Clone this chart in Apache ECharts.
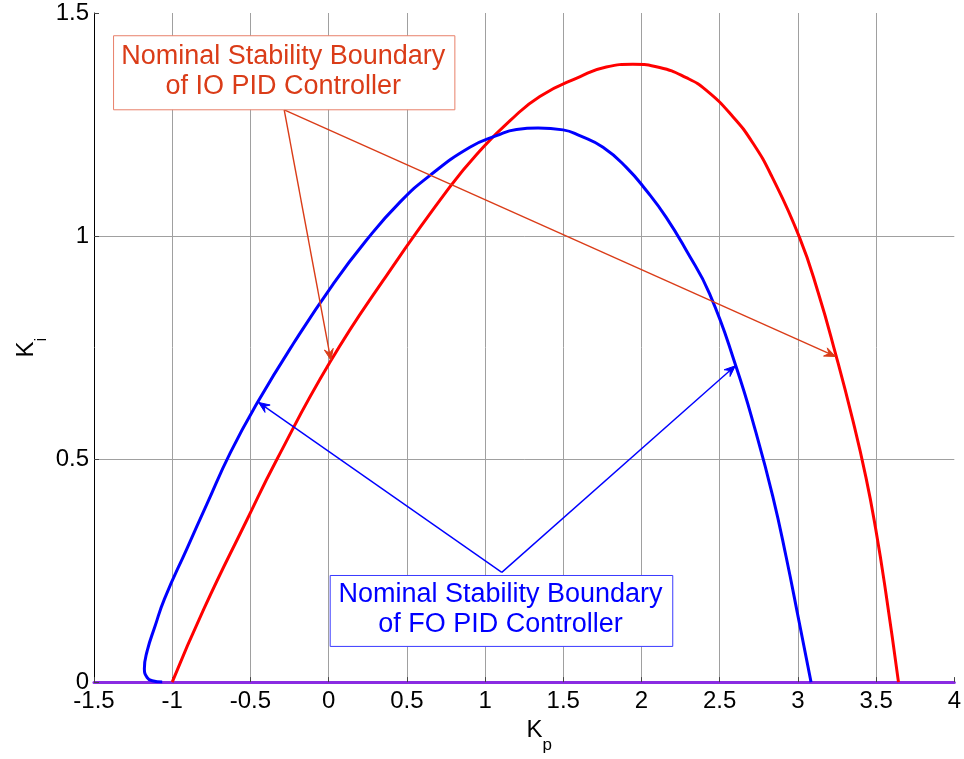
<!DOCTYPE html>
<html>
<head>
<meta charset="utf-8">
<title>Nominal stability boundaries</title>
<script src="https://cdn.jsdelivr.net/npm/echarts@6/dist/echarts.min.js"></script>
<style>
  html, body { margin: 0; padding: 0; background: #fff; }
  #chart { width: 964px; height: 759px; }
</style>
</head>
<body>
<div id="chart"></div>
<script>
// Integer-order PID: stability boundary in the (Kp, Ki) plane
const kpIO = [-1.0, -0.799, -0.522, -0.331, 0.01, 0.35, 0.775, 0.988, 1.158, 1.35,
  1.605, 1.775, 1.945, 2.116, 2.286, 2.413, 2.583, 2.711, 2.834, 3.009,
  3.13, 3.243, 3.349, 3.435, 3.498, 3.562, 3.643];
const kiIO = [0, 0.163, 0.364, 0.499, 0.718, 0.901, 1.110, 1.199, 1.258, 1.313,
  1.357, 1.379, 1.385, 1.378, 1.355, 1.327, 1.268, 1.209, 1.133, 0.998,
  0.873, 0.733, 0.590, 0.459, 0.342, 0.201, 0];

// Fractional-order PID: stability boundary in the (Kp, Ki) plane
const kpFO = [-1.064, -1.128, -1.16, -1.178, -1.16, -1.11, -1.05, -0.905, -0.777, -0.629,
  -0.458, -0.225, 0.03, 0.24, 0.456, 0.648, 0.903, 1.073, 1.201, 1.339,
  1.499, 1.605, 1.754, 1.903, 2.031, 2.158, 2.286, 2.435, 2.605, 2.733,
  2.839, 2.924, 3.009, 3.084];
const kiFO = [0, 0.003, 0.01, 0.03, 0.07, 0.125, 0.186, 0.300, 0.400, 0.514,
  0.625, 0.759, 0.893, 0.99, 1.076, 1.136, 1.199, 1.225, 1.239, 1.242,
  1.238, 1.225, 1.199, 1.154, 1.102, 1.042, 0.968, 0.871, 0.707, 0.558,
  0.417, 0.282, 0.133, 0];

// Axis ranges
const kpRange = [-1.5, 4];
const kiRange = [0, 1.5];
const tickStep = 0.5;

// Callout texts
const ioLabel = 'Nominal Stability Boundary\nof IO PID Controller';
const foLabel = 'Nominal Stability Boundary\nof FO PID Controller';

// Callout anchors in (Kp, Ki): box corners, arrow origin, arrow targets
const ioBox = [[-1.375, 1.449], [0.807, 1.283]];
const ioFrom = [-0.284, 1.283];
const ioTargets = [[0.014, 0.722], [3.24, 0.73]];
const foBox = [[0.01, 0.239], [2.20, 0.08]];
const foFrom = [1.107, 0.246];
const foTargets = [[-0.448, 0.627], [2.60, 0.709]];

const zip = (xs, ys) => xs.map((x, i) => [x, ys[i]]);

const FONT = '"Liberation Sans", Arial, Helvetica, sans-serif';
const IO_COLOR = '#da3c18';
const FO_COLOR = '#0000FF';

function arrowHead(tip, from, color) {
  const dx = tip[0] - from[0], dy = tip[1] - from[1];
  const len = Math.hypot(dx, dy);
  const ux = dx / len, uy = dy / len;
  const nx = -uy, ny = ux;
  const L = 11, W = 4.5, N = 7;
  return {
    type: 'polygon',
    shape: { points: [
      tip,
      [tip[0] - ux * L + nx * W, tip[1] - uy * L + ny * W],
      [tip[0] - ux * N, tip[1] - uy * N],
      [tip[0] - ux * L - nx * W, tip[1] - uy * L - ny * W]
    ] },
    style: { fill: color, stroke: color, lineWidth: 1 }
  };
}

function callout(api, box, from, targets, text, textColor, borderColor) {
  const p0 = api.coord(box[0]);
  const p1 = api.coord(box[1]);
  const start = api.coord(from);
  const children = [];
  targets.forEach(t => {
    const tip = api.coord(t);
    children.push({
      type: 'line',
      shape: { x1: start[0], y1: start[1], x2: tip[0], y2: tip[1] },
      style: { stroke: textColor, lineWidth: 1.4 }
    });
    children.push(arrowHead(tip, start, textColor));
  });
  children.push({
    type: 'rect',
    shape: { x: p0[0], y: p0[1], width: p1[0] - p0[0], height: p1[1] - p0[1] },
    style: { fill: '#fff', stroke: borderColor, lineWidth: 1 }
  });
  children.push({
    type: 'text',
    style: {
      text: text,
      x: (p0[0] + p1[0]) / 2 - 1,
      y: (p0[1] + p1[1]) / 2 - 1,
      align: 'center',
      verticalAlign: 'middle',
      fontFamily: FONT,
      fontSize: 27,
      lineHeight: 30,
      fill: textColor
    }
  });
  return children;
}

const chart = echarts.init(document.getElementById('chart'), null, { renderer: 'canvas' });

chart.setOption({
  animation: false,
  backgroundColor: '#fff',
  grid: { left: 94, right: 8, top: 13, bottom: 76 },
  xAxis: {
    type: 'value',
    min: kpRange[0],
    max: kpRange[1],
    interval: tickStep,
    name: '{k|K}{s|p}',
    nameLocation: 'middle',
    nameGap: 34,
    nameTextStyle: {
      padding: [0, 0, 0, 30],
      rich: {
        k: { fontFamily: FONT, fontSize: 24, color: '#000', lineHeight: 36, verticalAlign: 'top' },
        s: { fontFamily: FONT, fontSize: 17, color: '#000', lineHeight: 17, verticalAlign: 'bottom' }
      }
    },
    axisLine: { show: true, onZero: false, lineStyle: { color: '#8a2be2', width: 3 } },
    axisTick: { show: true, inside: true, length: 5, lineStyle: { color: '#444' } },
    axisLabel: { color: '#000', fontFamily: FONT, fontSize: 24, margin: 7 },
    splitLine: { show: true, showMinLine: false, showMaxLine: false, lineStyle: { color: '#a0a0a0', width: 1 } }
  },
  yAxis: {
    type: 'value',
    min: kiRange[0],
    max: kiRange[1],
    interval: tickStep,
    name: '{k|K}{s|i}',
    nameLocation: 'middle',
    nameGap: 44,
    nameRotate: 90,
    nameMoveOverlap: false,
    nameTextStyle: {
      rich: {
        k: { fontFamily: FONT, fontSize: 24, color: '#000', lineHeight: 36, verticalAlign: 'top' },
        s: { fontFamily: FONT, fontSize: 17, color: '#000', lineHeight: 17, verticalAlign: 'bottom' }
      }
    },
    axisLine: { show: true, onZero: false, lineStyle: { color: '#000', width: 1 } },
    axisTick: { show: true, inside: true, length: 5, lineStyle: { color: '#444' } },
    axisLabel: { color: '#000', fontFamily: FONT, fontSize: 24, margin: 5 },
    splitLine: { show: true, showMinLine: false, showMaxLine: false, lineStyle: { color: '#a0a0a0', width: 1 } }
  },
  series: [
    {
      name: 'IO PID',
      type: 'line',
      data: zip(kpIO, kiIO),
      showSymbol: false,
      smooth: 0.5,
      lineStyle: { color: '#ff0000', width: 3 },
      z: 3
    },
    {
      name: 'FO PID',
      type: 'line',
      data: zip(kpFO, kiFO),
      showSymbol: false,
      smooth: 0.5,
      lineStyle: { color: FO_COLOR, width: 3 },
      z: 4
    },
    {
      name: 'callouts',
      type: 'custom',
      coordinateSystem: 'cartesian2d',
      data: [[0, 0]],
      clip: false,
      silent: true,
      z: 10,
      renderItem: function (params, api) {
        return {
          type: 'group',
          children: []
            .concat(callout(api, ioBox, ioFrom, ioTargets, ioLabel, IO_COLOR, '#e8806a'))
            .concat(callout(api, foBox, foFrom, foTargets, foLabel, FO_COLOR, '#3a3aff'))
        };
      }
    }
  ]
});
</script>
</body>
</html>
